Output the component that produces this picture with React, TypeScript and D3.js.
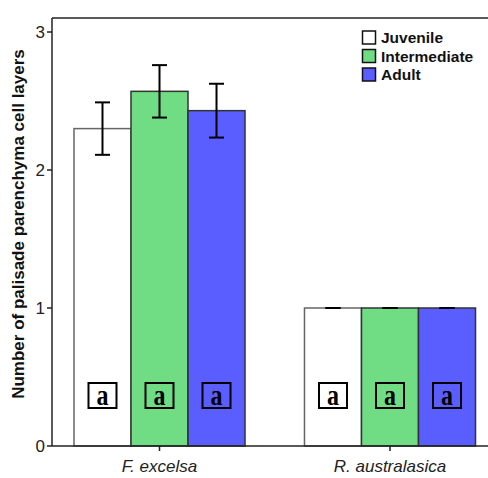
import React from "react";
import * as d3 from "d3";

const species = ["F. excelsa", "R. australasica"];
const stages = ["Juvenile", "Intermediate", "Adult"];
const stageColors = ["#ffffff", "#70dc84", "#5a5eff"];
const means = [
  [2.30, 2.57, 2.43],
  [1.0, 1.0, 1.0],
];
const errors = [
  [0.19, 0.19, 0.195],
  [0, 0, 0],
];
const letters = [
  ["a", "a", "a"],
  ["a", "a", "a"],
];
const yTicks = [0, 1, 2, 3];

const W = 488;
const H = 478;
const left = 52;
const top = 18;
const bottom = 446;

export default function App() {
  const y = d3.scaleLinear().domain([0, 3]).range([bottom, 32]);
  const x0 = d3
    .scaleBand<string>()
    .domain(species)
    .range([left, 497.5])
    .paddingInner(0.258)
    .paddingOuter(0.0954);
  const x1 = d3.scaleBand<string>().domain(stages).range([0, x0.bandwidth()]);
  const font = "'Liberation Sans', Arial, sans-serif";

  return (
    <svg
      width={W}
      height={H}
      style={{ position: "absolute", left: 0, top: 0, background: "#fff" }}
    >
      {/* bars */}
      {species.map((sp, i) =>
        stages.map((st, j) => {
          const bx = (x0(sp) as number) + (x1(st) as number);
          const bw = x1.bandwidth();
          const v = means[i][j];
          return (
            <rect
              key={sp + st}
              x={bx}
              y={y(v)}
              width={bw}
              height={bottom - y(v)}
              fill={stageColors[j]}
              stroke={j === 0 ? "#666" : "#333"}
              strokeWidth={1.5}
            />
          );
        })
      )}
      {/* error bars */}
      {species.map((sp, i) =>
        stages.map((st, j) => {
          const cx = (x0(sp) as number) + (x1(st) as number) + x1.bandwidth() / 2;
          const hi = y(means[i][j] + errors[i][j]);
          const lo = y(means[i][j] - errors[i][j]);
          return (
            <g key={"e" + sp + st} stroke="#000" strokeWidth={2}>
              <line x1={cx} x2={cx} y1={hi} y2={lo} />
              <line x1={cx - 7.5} x2={cx + 7.5} y1={hi} y2={hi} />
              <line x1={cx - 7.5} x2={cx + 7.5} y1={lo} y2={lo} />
            </g>
          );
        })
      )}
      {/* significance letters */}
      {species.map((sp, i) =>
        stages.map((st, j) => {
          const cx = (x0(sp) as number) + (x1(st) as number) + x1.bandwidth() / 2;
          return (
            <g key={"l" + sp + st}>
              <rect
                x={cx - 14}
                y={383}
                width={28}
                height={25}
                fill="none"
                stroke="#000"
                strokeWidth={2}
              />
              <text
                transform={`translate(${cx},404.5) scale(1,1.2)`}
                textAnchor="middle"
                fontFamily="'Liberation Serif', 'Times New Roman', serif"
                fontWeight="bold"
                fontSize={24}
                fill="#000"
              >
                {letters[i][j]}
              </text>
            </g>
          );
        })
      )}
      {/* frame top */}
      <line x1={left} x2={W} y1={top} y2={top} stroke="#222" strokeWidth={1.5} />
      {/* y axis */}
      <line x1={left} x2={left} y1={top} y2={bottom} stroke="#222" strokeWidth={1.5} />
      {yTicks.map((t) => (
        <g key={t}>
          <line x1={left - 5} x2={left} y1={y(t)} y2={y(t)} stroke="#222" strokeWidth={1.5} />
          <text
            x={left - 7}
            y={y(t)}
            dy="0.36em"
            textAnchor="end"
            fontFamily={font}
            fontSize={17}
            fill="#222"
          >
            {t}
          </text>
        </g>
      ))}
      {/* x axis */}
      <line x1={left} x2={W} y1={bottom} y2={bottom} stroke="#222" strokeWidth={1.5} />
      {species.map((sp) => {
        const cx = (x0(sp) as number) + x0.bandwidth() / 2;
        return (
          <g key={"x" + sp}>
            <line x1={cx} x2={cx} y1={bottom} y2={bottom + 5} stroke="#222" strokeWidth={1.5} />
            <text
              x={cx}
              y={472}
              textAnchor="middle"
              fontFamily={font}
              fontStyle="italic"
              fontSize={17}
              fill="#222"
            >
              {sp}
            </text>
          </g>
        );
      })}
      {/* y axis title */}
      <text
        transform={`translate(24,224) rotate(-90)`}
        textAnchor="middle"
        fontFamily={font}
        fontWeight="bold"
        fontSize={17}
        fill="#111"
      >
        Number of palisade parenchyma cell layers
      </text>
      {/* legend */}
      {stages.map((st, j) => (
        <g key={"lg" + st} transform={`translate(362.5, ${31 + j * 18.5})`}>
          <rect width={13} height={13} fill={stageColors[j]} stroke="#111" strokeWidth={1.5} />
          <text
            x={18.5}
            y={12}
            fontFamily={font}
            fontWeight="bold"
            fontSize={15.5}
            fill="#111"
          >
            {st}
          </text>
        </g>
      ))}
    </svg>
  );
}
